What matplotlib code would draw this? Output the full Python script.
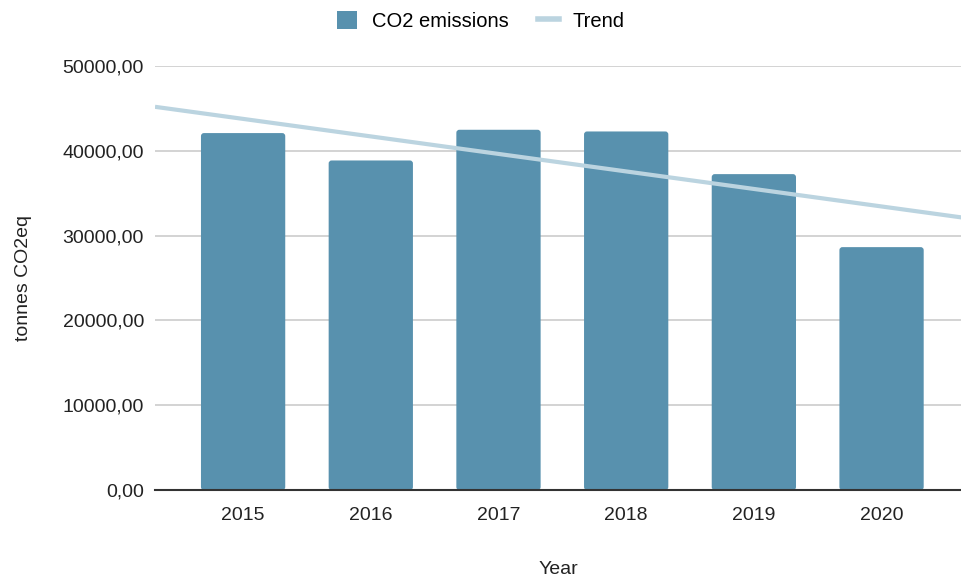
import numpy as np
import matplotlib.pyplot as plt
from matplotlib.patches import FancyBboxPatch, Patch
from matplotlib.lines import Line2D

years = ['2015', '2016', '2017', '2018', '2019', '2020']
emissions = [42090, 38860, 42480, 42280, 37250, 28640]

bar_color = '#5891ae'
trend_color = '#bbd4e0'

plt.rcParams['font.family'] = ['Liberation Sans', 'DejaVu Sans']

fig = plt.figure(figsize=(9.62, 5.79), dpi=100)
ax = fig.add_axes([155/962, 1-490/579, (962-155)/962, (490-66)/579])

xmin, xmax = -0.69, 5.63
x = np.arange(len(years))
bars = ax.bar(x, emissions, width=0.66, color=bar_color, zorder=2)

# rounded tops (~3px radius)
px_x = 807 / (xmax - xmin)
px_y = 424 / 50000
for b in bars:
    b.set_visible(False)
    p = FancyBboxPatch((b.get_x(), b.get_y()), b.get_width(), b.get_height(),
                       boxstyle='round,pad=0,rounding_size=%f' % (3/px_x),
                       mutation_aspect=px_x/px_y,
                       facecolor=bar_color, edgecolor='none', zorder=2)
    ax.add_patch(p)

# linear trend over the data
k, c = np.polyfit(x, emissions, 1)
xt = np.array([xmin, xmax])
ax.plot(xt, k*xt + c, color=trend_color, lw=3, zorder=3, solid_capstyle='butt')

ax.set_xlim(xmin, xmax)
ax.set_ylim(0, 50000)
ax.set_yticks([0, 10000, 20000, 30000, 40000, 50000])
ax.set_yticklabels(['0,00', '10000,00', '20000,00', '30000,00', '40000,00', '50000,00'])
ax.set_xticks(x)
ax.set_xticklabels(years)
ax.tick_params(length=0, labelsize=14, colors='#222222')
ax.tick_params(axis='x', pad=12)
ax.tick_params(axis='y', pad=8)

ax.grid(axis='y', color='#cccccc', lw=1.2, zorder=0)
ax.set_axisbelow(True)
for s in ['top', 'right', 'left']:
    ax.spines[s].set_visible(False)
ax.spines['bottom'].set_color('#333333')
ax.spines['bottom'].set_linewidth(1.5)
ax.spines['bottom'].set_zorder(4)

ax.set_ylabel('tonnes CO2eq', fontsize=14, color='#222222', labelpad=22)
ax.set_xlabel('Year', fontsize=14, color='#222222', labelpad=27)

handles = [Patch(facecolor=bar_color, edgecolor='none'),
           Line2D([0], [0], color=trend_color, lw=4)]
fig.legend(handles, ['CO2 emissions', 'Trend'], loc='center',
           bbox_to_anchor=(0.5, 1 - 21/579), ncol=2, frameon=False, fontsize=14.5,
           handlelength=1.0, handleheight=1.0, handletextpad=0.7,
           columnspacing=1.5)

fig.savefig('out.png', dpi=100)
